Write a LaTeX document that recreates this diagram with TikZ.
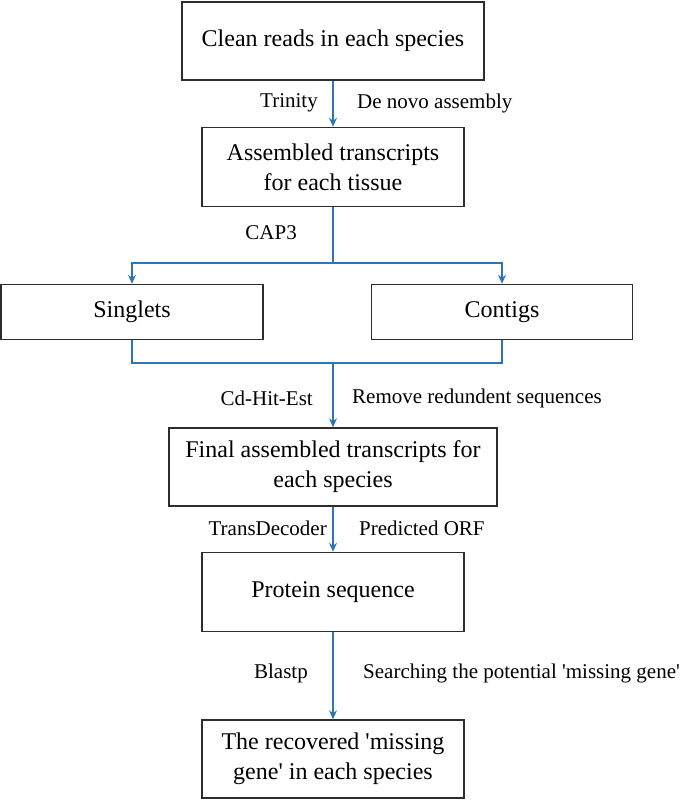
\documentclass[tikz,border=0pt]{standalone}
\usepackage{fontspec}
\setmainfont{Liberation Serif}
\usetikzlibrary{arrows.meta,positioning}

\definecolor{flowblue}{RGB}{46,117,182}
\definecolor{boxgray}{RGB}{45,45,45}

\begin{document}
\begin{tikzpicture}[x=1pt,y=-1pt,>={Stealth[length=9pt,width=8pt]},
  box/.style={draw=boxgray,line width=1.4pt,inner sep=0pt,align=center,font=\fontsize{24}{30}\selectfont},
  lbl/.style={inner sep=0pt,font=\fontsize{21}{25}\selectfont},
  flow/.style={draw=flowblue,line width=1.3pt}]
\useasboundingbox (0,0) rectangle (685,801);

\node[box,minimum width=302pt,minimum height=78pt] (clean) at (333,41) {Clean reads in each species};
\node[box,minimum width=262pt,minimum height=79pt] (asm) at (333,167) {Assembled transcripts\\for each tissue};
\node[box,minimum width=262pt,minimum height=55pt] (singlets) at (132,312) {Singlets};
\node[box,minimum width=261pt,minimum height=55pt] (contigs) at (502,312) {Contigs};
\node[box,minimum width=328pt,minimum height=78pt] (final) at (333,467) {Final assembled transcripts for\\each species};
\node[box,minimum width=262pt,minimum height=79pt] (protein) at (333,592) {Protein sequence};
\node[box,minimum width=262pt,minimum height=78pt] (recovered) at (333,759) {The recovered \textquotesingle missing\\gene\textquotesingle{} in each species};

\coordinate (split) at (333,263);
\coordinate (merge) at (333,363);

\draw[flow,->] (clean) -- (asm);
\draw[flow] (asm) -- (split);
\draw[flow,->] (split) -| (singlets);
\draw[flow,->] (split) -| (contigs);
\draw[flow] (singlets) |- (merge);
\draw[flow] (contigs) |- (merge);
\draw[flow,->] (merge) -- (final);
\draw[flow,->] (final) -- (protein);
\draw[flow,->] (protein) -- (recovered);

% step labels
\node[lbl,anchor=east] (trinity) at (318,103) {Trinity};
\node[lbl,anchor=west] (denovo) at (357,103) {De novo assembly};
\node[lbl,anchor=east] (cap) at (297,233) {CAP3};
\node[lbl,anchor=east] (cdhit) at (313,398) {Cd-Hit-Est};
\node[lbl,anchor=west] (redund) at (352,398) {Remove redundent sequences};
\node[lbl,anchor=east] (transdec) at (327,528) {TransDecoder};
\node[lbl,anchor=west] (orf) at (359,528) {Predicted ORF};
\node[lbl,anchor=east] (blastp) at (308,673) {Blastp};
\node[lbl,anchor=west] (search) at (363,673) {Searching the potential \textquotesingle missing gene\textquotesingle};
\end{tikzpicture}
\end{document}
